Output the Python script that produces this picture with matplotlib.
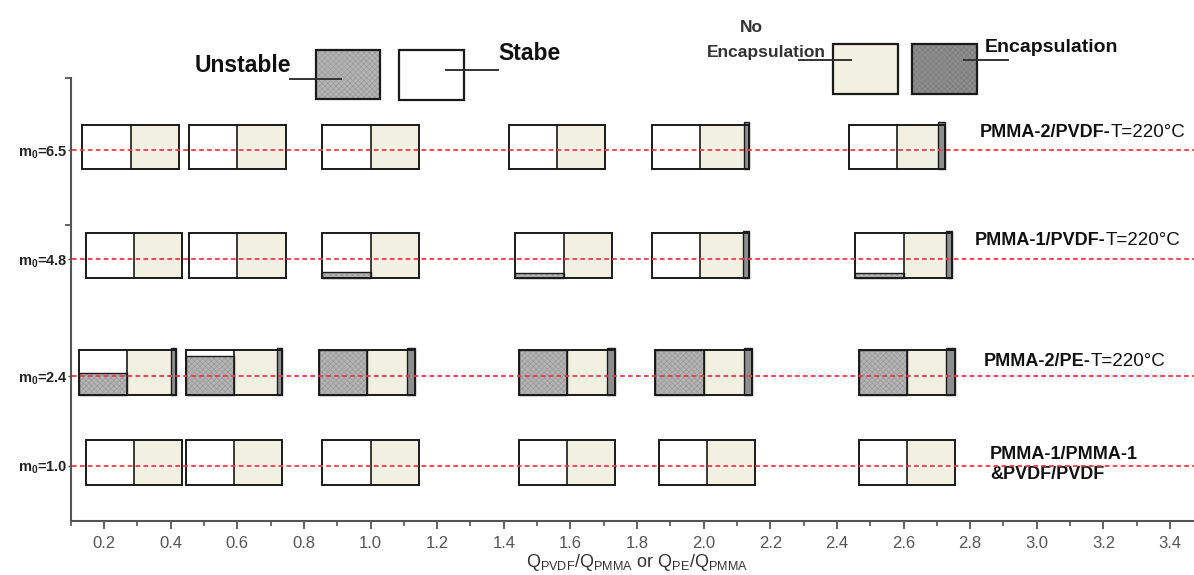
import numpy as np
import matplotlib
matplotlib.use("Agg")
import matplotlib.pyplot as plt
from matplotlib.patches import Rectangle

plt.rcParams['font.family'] = ['Liberation Sans', 'DejaVu Sans']
plt.rcParams['mathtext.fontset'] = 'custom'
plt.rcParams['mathtext.rm'] = 'Liberation Sans'
plt.rcParams['mathtext.it'] = 'Liberation Sans'
plt.rcParams['mathtext.bf'] = 'Liberation Sans:bold'
plt.rcParams['hatch.linewidth'] = 0.5

# ---- data ----
ROW_LABELS = [r"m$_\mathbf{0}$=6.5", r"m$_\mathbf{0}$=4.8", r"m$_\mathbf{0}$=2.4", r"m$_\mathbf{0}$=1.0"]
SYSTEM_BOLD = ["PMMA-2/PVDF-", "PMMA-1/PVDF-", "PMMA-2/PE-", "PMMA-1/PMMA-1\n&PVDF/PVDF"]
SYSTEM_TEMP = ["T=220°C", "T=220°C", "T=220°C", ""]

# Q ratio where each cell sits (one list per row, top row first)
Q_65 = [0.28, 0.60, 1.00, 1.56, 1.99, 2.58]
Q_48 = [0.29, 0.60, 1.00, 1.58, 1.99, 2.60]
Q_24 = [0.27, 0.59, 0.99, 1.59, 2.00, 2.61]
Q_10 = [0.29, 0.59, 1.00, 1.59, 2.01, 2.61]

# unstable fraction of the left half (filled from the bottom)
UNST_65 = [0, 0, 0, 0, 0, 0]
UNST_48 = [0, 0, 0.13, 0.10, 0, 0.10]
UNST_24 = [0.48, 0.87, 1.0, 1.0, 1.0, 1.0]
UNST_10 = [0, 0, 0, 0, 0, 0]

# encapsulation strip width (in Q units) at the right end of a cell
ENC_65 = [0, 0, 0, 0, 0.015, 0.020]
ENC_48 = [0, 0, 0, 0, 0.018, 0.017]
ENC_24 = [0.015, 0.017, 0.025, 0.025, 0.023, 0.028]
ENC_10 = [0, 0, 0, 0, 0, 0]

ROWS = [(Q_65, UNST_65, ENC_65), (Q_48, UNST_48, ENC_48),
        (Q_24, UNST_24, ENC_24), (Q_10, UNST_10, ENC_10)]

# ---- layout ----
W, H = 1194, 575
ROW_Y = [8.37, 5.91, 3.27, 1.24]
LABEL_POS = [(2.83, 8.76), (2.815, 6.34), (2.84, 3.59), (2.86, 1.27)]
HALF = 0.145
BOX_H = 1.0

BEIGE = "#f1f0e1"
UNST = "#b4b4b4"
HATCH_C = "#999999"
ENC = "#8e8e8e"
EDGE = "#1a1a1a"
AXC = "#555555"

fig = plt.figure(figsize=(W / 100, H / 100), dpi=100)
ax = fig.add_axes([70.7 / W, 54 / H, (W - 70.7) / W, (521 - 78) / H])
ax.set_xlim(0.104, 3.472)
ax.set_ylim(0, 10)


def draw_cell(q, yc, unst, enc):
    y0 = yc - BOX_H / 2
    # left half: stable (white) with unstable part from the bottom
    ax.add_patch(Rectangle((q - HALF, y0), HALF, BOX_H, facecolor="white", edgecolor="none", zorder=2))
    if unst > 0:
        ax.add_patch(Rectangle((q - HALF, y0), HALF, BOX_H * unst, facecolor=UNST,
                               edgecolor=HATCH_C, hatch="xxxxxx", lw=0, zorder=2.5))
        ax.add_patch(Rectangle((q - HALF, y0), HALF, BOX_H * unst, facecolor="none",
                               edgecolor=EDGE, lw=1.0, zorder=3))
    # right half: no encapsulation, then encapsulation strip
    ax.add_patch(Rectangle((q, y0), HALF - enc, BOX_H, facecolor=BEIGE, edgecolor="none", zorder=2))
    if enc > 0:
        ax.add_patch(Rectangle((q + HALF - enc, y0), enc, BOX_H + 0.05, facecolor=ENC,
                               edgecolor=EDGE, lw=1.0, zorder=3))
    ax.add_patch(Rectangle((q - HALF, y0), 2 * HALF, BOX_H, facecolor="none",
                           edgecolor=EDGE, lw=1.4, zorder=3))
    ax.plot([q, q], [y0, y0 + BOX_H], color=EDGE, lw=1.2, zorder=3)


for (qs, us, es), yr in zip(ROWS, ROW_Y):
    for q, u, e in zip(qs, us, es):
        draw_cell(q, yr + 0.08, u, e)
    ax.plot([0.104, 3.472], [yr, yr], color="#f03a4a", lw=1.3, dashes=(2.6, 1.8), zorder=4)

# system labels on the right
for (lx, ly), bold, temp in zip(LABEL_POS, SYSTEM_BOLD, SYSTEM_TEMP):
    t1 = ax.text(lx, ly, bold, fontsize=13, fontweight="bold", ha="left", va="center",
                 color="#111111", linespacing=1.25)
    if temp:
        ax.annotate(temp, xy=(1, 0), xycoords=t1, ha="left", va="bottom", fontsize=13.5, color="#111111")

# axes styling
for s in ["top", "right"]:
    ax.spines[s].set_visible(False)
for s in ["left", "bottom"]:
    ax.spines[s].set_color(AXC)
    ax.spines[s].set_linewidth(1.5)

ax.set_xticks(np.round(np.arange(0.2, 3.41, 0.2), 1))
ax.set_xticks(np.round(np.arange(0.1, 3.46, 0.1), 1), minor=True)
ax.xaxis.set_major_formatter(matplotlib.ticker.FormatStrFormatter("%.1f"))
ax.tick_params(axis="x", which="major", length=6, width=1.3, color=AXC, labelsize=12,
               labelcolor=AXC, pad=5)
ax.tick_params(axis="x", which="minor", length=3.5, width=1.2, color=AXC)

ax.set_yticks(ROW_Y)
ax.set_yticklabels(ROW_LABELS, fontsize=10.5, fontweight="bold", color="#222222")
ax.tick_params(axis="y", which="major", length=2, width=1.0, color=AXC, pad=0)
ax.set_yticks([6.68, 10.0], minor=True)
ax.tick_params(axis="y", which="minor", length=4, width=1.3, color=AXC)

ax.text(1.8, -0.93, r"Q$_{\mathrm{PVDF}}$/Q$_{\mathrm{PMMA}}$ or Q$_{\mathrm{PE}}$/Q$_{\mathrm{PMMA}}$",
        ha="center", va="center", fontsize=13, color="#333333")


# ---- legend drawn in pixel layout above the axes ----
def fx(px):
    return px / W


def fy(py):
    return 1 - py / H


def fig_box(x0, y0, x1, y1, **kw):
    fig.add_artist(Rectangle((fx(x0), fy(y1)), (x1 - x0) / W, (y1 - y0) / H,
                             transform=fig.transFigure, **kw))


def fig_line(x0, x1, py):
    fig.add_artist(plt.Line2D([fx(x0), fx(x1)], [fy(py), fy(py)], color="#333333", lw=1.4,
                              transform=fig.transFigure, zorder=5))


fig_box(316, 50, 380, 99, facecolor=UNST, edgecolor=HATCH_C, hatch="xxxxxx", lw=0)
fig_box(316, 50, 380, 99, facecolor="none", edgecolor=EDGE, lw=1.6)
fig_box(399, 50, 464, 100, facecolor="white", edgecolor=EDGE, lw=1.6)
fig_box(833, 44, 898, 94, facecolor=BEIGE, edgecolor=EDGE, lw=1.6)
fig_box(912, 44, 977, 94, facecolor=ENC, edgecolor="#7a7a7a", hatch="xxxxxx", lw=0)
fig_box(912, 44, 977, 94, facecolor="none", edgecolor=EDGE, lw=1.6)

fig_line(290, 341, 79)
fig_line(446, 498, 70)
fig_line(799, 851, 60)
fig_line(964, 1008, 60)

fig.text(fx(291), fy(65), "Unstable", fontsize=16.5, fontweight="bold", ha="right", va="center", color="#111111")
fig.text(fx(498), fy(54), "Stabe", fontsize=16.5, fontweight="bold", ha="left", va="center", color="#111111")
fig.text(fx(751), fy(27), "No", fontsize=12.5, fontweight="bold", ha="center", va="center", color="#333333")
fig.text(fx(826), fy(52), "Encapsulation", fontsize=12.5, fontweight="bold", ha="right", va="center", color="#333333")
fig.text(fx(985), fy(47), "Encapsulation", fontsize=14, fontweight="bold", ha="left", va="center", color="#111111")

fig.savefig("out.png", dpi=100)
